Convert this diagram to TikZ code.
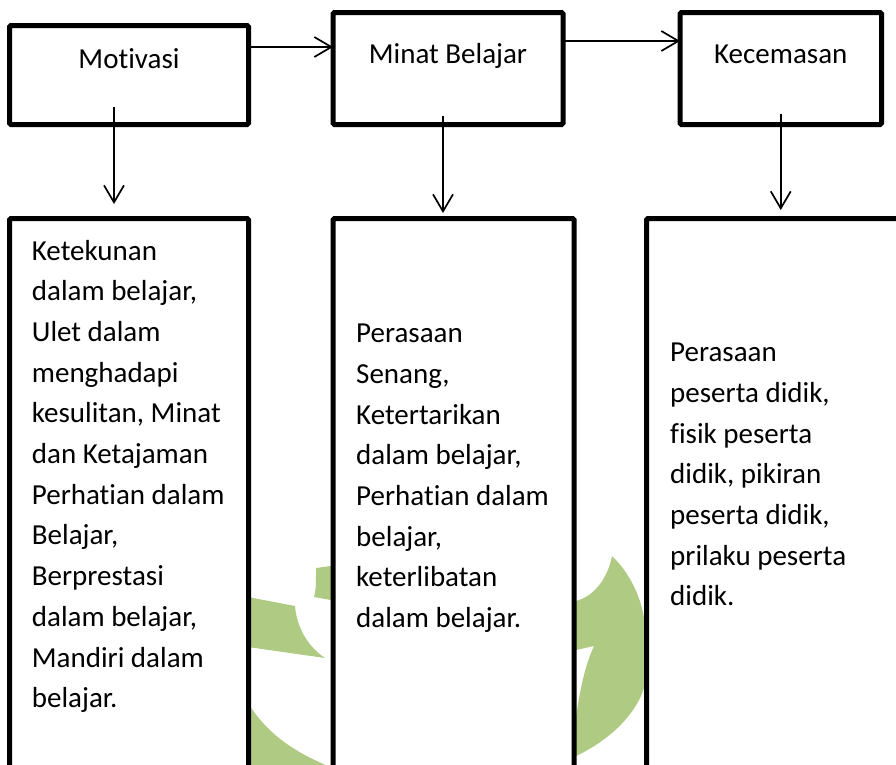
\documentclass[tikz,border=0pt]{standalone}
\usepackage{fontspec}
\setmainfont{Carlito}[Ligatures=NoCommon]
\usetikzlibrary{arrows.meta,calc,positioning}
\definecolor{Leaf}{HTML}{AFCB83}

\begin{document}
\begin{tikzpicture}[x=1pt,y=-1pt,
      heading/.style={draw,line width=5pt,rounded corners=1.5pt,fill=white,
                      inner sep=0pt,outer sep=0pt,anchor=north west},
      detail/.style={heading},
      flow/.style={-{Straight Barb[length=17pt,width=20pt]},line width=1.7pt},
      title/.style={font=\fontsize{29}{40.7}\selectfont,inner sep=0pt,anchor=base},
      notes/.style={font=\fontsize{29}{40.7}\selectfont,inner sep=0pt,
                    align=left,anchor=base west}]
    \useasboundingbox (0,0) rectangle (896,764);
    \clip (0,0) rectangle (896,764);

    % Pale logo showing between the lower boxes.
    \fill[Leaf] (316,568) -- (331,566) -- (331,600) -- (314,597)
      .. controls (316,588) .. cycle;
    \fill[Leaf] (248,597) -- (295,606)
      .. controls (297,630) and (310,648) .. (325,658) -- (248,647) -- cycle;
    \fill[Leaf] (248,703) .. controls (268,735) and (295,752) .. (328,766)
      -- (248,766) -- cycle;
    \fill[Leaf] (576,601) .. controls (595,596) and (608,577) .. (612,556)
      .. controls (632,575) and (646,605) .. (646,640) -- (646,680)
      .. controls (640,712) and (610,740) .. (576,756)
      -- (576,717) .. controls (580,690) and (585,665) .. (594,646)
      -- (576,650) -- cycle;

    % Top row: the three variables.
    \node[heading,minimum width=239pt,minimum height=99pt] (motivasi)
      at (9.5,25.5) {};
    \node[heading,minimum width=230pt,minimum height=112pt] (minat)
      at (333,12.5) {};
    \node[heading,minimum width=201.5pt,minimum height=112pt] (kecemasan)
      at (680,12.5) {};
    \node[title] (motivasiText) at ($(motivasi.north)+(0,42.5)$) {Motivasi};
    \node[title] (minatText) at ($(minat.north)+(0,50.5)$) {Minat Belajar};
    \node[title] (kecemasanText) at ($(kecemasan.north)+(0,50.5)$) {Kecemasan};

    % Bottom row: indicators, running off the page.
    % (base of a multi-line node sits on its last line)
    \node[detail,minimum width=239pt,minimum height=552pt] (motivasiBox)
      at (9.5,218.5) {};
    \node[detail,minimum width=241pt,minimum height=552pt] (minatBox)
      at (333,218.5) {};
    \node[detail,minimum width=254pt,minimum height=552pt] (kecemasanBox)
      at (646.5,218.5) {};
    \node[notes] (motivasiList) at ($(motivasiBox.north west)+(22.2,489.2)$)
      {Ketekunan\\dalam belajar,\\Ulet dalam\\menghadapi\\kesulitan, Minat\\
       dan Ketajaman\\Perhatian dalam\\Belajar,\\Berprestasi\\dalam belajar,\\
       Mandiri dalam\\belajar.};
    \node[notes] (minatList) at ($(minatBox.north west)+(23,409.1)$)
      {Perasaan\\Senang,\\Ketertarikan\\dalam belajar,\\Perhatian dalam\\
       belajar,\\keterlibatan\\dalam belajar.};
    \node[notes] (kecemasanList) at ($(kecemasanBox.north west)+(23.5,387.4)$)
      {Perasaan\\peserta didik,\\fisik peserta\\didik, pikiran\\
       peserta didik,\\prilaku peserta\\didik.};

    % Links along the top row and down to each list.
    \draw[flow] ([yshift=28pt]motivasi.east) -- ([yshift=28pt]motivasi.east -| minat.west);
    \draw[flow] ([yshift=27.5pt]minat.east) -- ([yshift=27.5pt]minat.east -| kecemasan.west);
    \draw[flow] ($(motivasi.south)+(-15,-17.5)$) coordinate (downA)
      -- ($(downA |- motivasiBox.north)+(0,-14.5)$);
    \draw[flow] ($(minat.south)+(-5,-8.5)$) coordinate (downB)
      -- ($(downB |- minatBox.north)+(0,-5.5)$);
    \draw[flow] ($(kecemasan.south)+(0,-10.5)$) coordinate (downC)
      -- ($(downC |- kecemasanBox.north)+(0,-8.5)$);
  \end{tikzpicture}
\end{document}
